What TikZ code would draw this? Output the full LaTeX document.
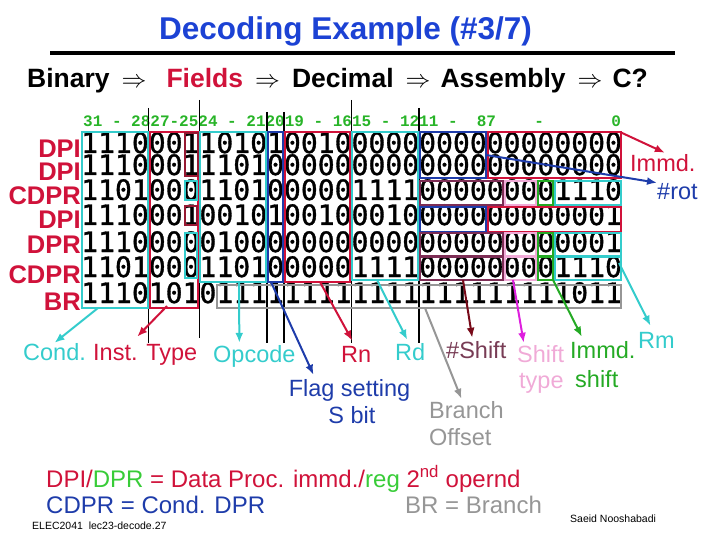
\documentclass[tikz,border=0pt]{standalone}
\usepackage{fontspec}
\setmainfont{Liberation Sans}
\newfontfamily\digfont{DejaVu Sans Mono}[FakeBold=1.2]
\newfontfamily\hdrfont{Liberation Mono}
\usetikzlibrary{calc,positioning}
\usetikzlibrary{arrows.meta}
\definecolor{crim}{RGB}{208,18,58}
\definecolor{ttlblue}{RGB}{28,66,212}
\definecolor{cyn}{RGB}{52,204,204}
\definecolor{sblue}{RGB}{30,60,170}
\definecolor{gry}{RGB}{150,150,150}
\definecolor{mrn}{RGB}{125,45,85}
\definecolor{shtxt}{RGB}{120,60,85}
\definecolor{dkred}{RGB}{120,10,25}
\definecolor{bitred}{RGB}{150,25,50}
\definecolor{pnk}{RGB}{240,170,215}
\definecolor{mag}{RGB}{222,30,222}
\definecolor{grn}{RGB}{36,170,36}
\definecolor{lgrn}{RGB}{56,204,56}
\definecolor{hdrgrn}{RGB}{40,180,40}

\begin{document}
\begin{tikzpicture}[x=1pt,y=-1pt,
  declare function={bx(\k)=81+16.9*\k;},
  lbl/.style={font=\fontsize{23.5}{28}\selectfont, inner sep=0pt, anchor=base west},
  ftxt/.style={font=\fontsize{24}{28}\selectfont, inner sep=0pt, anchor=base west},
  small/.style={font=\fontsize{10.5}{12}\selectfont, inner sep=0pt, anchor=base west},
  rowlbl/.style={font=\fontsize{25.5}{30}\selectfont\bfseries, text=crim, inner sep=0pt, anchor=base east},
  bits/.style={font=\fontsize{28.07}{30}\selectfont\digfont, inner sep=0pt, anchor=base west},
  fbox/.style={line width=2pt},
  arr/.style={line width=2pt, -{Latex[length=10pt,width=8pt]}},
  vln/.style={line width=1.5pt}]
  %\draw[color=gray,step=10pt,help lines,opacity=0.3] (0,0) grid (720,540); %help grids
  \useasboundingbox (0,0) rectangle (720,540);
  % title
  \node[font=\fontsize{31.5}{36}\selectfont\bfseries, text=ttlblue, inner sep=0pt, anchor=base] (ttl) at (345.5,40) {Decoding Example (\#3/7)};
  \draw[line width=4.5pt] (50,53) -- (675,53);
  \node[font=\fontsize{26.5}{30}\selectfont\bfseries, inner sep=0pt, anchor=base west] (sub) at (27,88)
    {Binary\hspace{12pt}$\Rightarrow$\hspace{20pt}\textcolor{crim}{Fields}\hspace{12pt}$\Rightarrow$\hspace{12pt}Decimal\hspace{12pt}$\Rightarrow$\hspace{10pt}Assembly\hspace{12pt}$\Rightarrow$\hspace{10pt}C?};
  % bit numbers
  \node[font=\fontsize{16}{18}\selectfont\hdrfont\bfseries, text=hdrgrn, inner sep=0pt, anchor=base west] (hdr) at (83,127)
    {31~-~2827-2524~-~212019~-~1615~-~1211~-~~87~~~~-~~~~~~~0};
  % field separators
  \draw[vln] ({bx(4)},108) -- ({bx(4)},343);
  \draw[vln] ({bx(7)},100) -- ({bx(7)},338);
  \draw[vln] ({bx(11)},112) -- ({bx(11)},343);
  \draw[vln] ({bx(12)},112) -- ({bx(12)},343);
  \draw[vln] ({bx(16)},100) -- ({bx(16)},343);
  \draw[vln] ({bx(20)},108) -- ({bx(20)},343);
  % instructions
  \node[rowlbl] (l1) at (81,158) {DPI};
  \node[rowlbl] (l2) at (81,181) {DPI};
  \node[rowlbl] (l3) at (81,205) {CDPR};
  \node[rowlbl] (l4) at (81,229) {DPI};
  \node[rowlbl] (l5) at (81,254) {DPR};
  \node[rowlbl] (l6) at (81,283) {CDPR};
  \node[rowlbl] (l7) at (81,310) {BR};
  \node[bits] (b1) at (81,153) {11100011010100100000000000000000};
  \node[bits] (b2) at (81,175) {11100011101000000000000000000000};
  \node[bits] (b3) at (81,200) {11010001101000001111000000001110};
  \node[bits] (b4) at (81,225) {11100010010100100010000000000001};
  \node[bits] (b5) at (81,252) {11100000100000000000000000000001};
  \node[bits] (b6) at (81,277) {11010001101000001111000000001110};
  \node[bits] (b7) at (81,303) {11101010111111111111111111111011};
  % field boxes
  \def\fld#1#2#3#4#5{\draw[fbox,#1] ({bx(#2)+1},#4) rectangle ({bx(#3)-1},#5);}
  \fld{cyn}{0}{4}{132}{308}
  \fld{crim}{4}{7}{132}{308}
  \draw[fbox,bitred] (185,133) rectangle (198,176);
  \draw[fbox,cyn] (185,181) rectangle (197,200);
  \draw[fbox,bitred] (185,206) rectangle (197,225);
  \draw[fbox,cyn] (185,233) rectangle (197,278);
  \fld{cyn}{7}{11}{132}{282}
  \fld{sblue}{11}{12}{132}{282}
  \fld{crim}{12}{16}{132}{282}
  \fld{cyn}{16}{20}{132}{280}
  \fld{sblue}{20}{24}{132}{178}
  \fld{crim}{24}{32}{132}{178}
  \fld{mrn}{20}{25}{181}{205}
  \fld{pnk}{25}{27}{181}{205}
  \fld{grn}{27}{28}{181}{205}
  \fld{cyn}{28}{32}{181}{205}
  \fld{sblue}{20}{24}{207}{232}
  \fld{crim}{24}{32}{207}{232}
  \fld{mrn}{20}{25}{233}{256}
  \fld{pnk}{25}{27}{233}{256}
  \fld{grn}{27}{28}{233}{256}
  \fld{cyn}{28}{32}{233}{256}
  \fld{mrn}{20}{25}{257}{280}
  \fld{pnk}{25}{27}{257}{280}
  \fld{grn}{27}{28}{257}{280}
  \fld{cyn}{28}{32}{257}{280}
  \fld{gry}{8}{32}{285}{308}
  % where the arrows leave the boxes
  \coordinate (condB) at (98,308);
  \coordinate (typeB) at (167,306);
  \coordinate (opcB) at (239,282);
  \coordinate (sB) at (271,282);
  \coordinate (rnB) at (320,282);
  \coordinate (rdB) at (377,280);
  \coordinate (offB) at (425,308);
  \coordinate (nshB) at (463,280);
  \coordinate (shtB) at (513,280);
  \coordinate (imB) at (553,280);
  \coordinate (rmB) at (619,263);
  \coordinate (immB) at (620,132);
  \coordinate (rotB) at (486,155);
  % field names
  \node[lbl,text=cyn] (cond) at (23,360) {Cond.};
  \node[lbl,text=crim] (itype) at (93,360) {Inst. Type};
  \node[lbl,text=cyn] (opc) at (213,362) {Opcode};
  \node[lbl,text=sblue,anchor=base] (flag) at (349.5,396) {Flag setting};
  \node[lbl,text=sblue,anchor=base] (sbit) at (352,423) {S bit};
  \node[lbl,text=crim] (rn) at (341,362) {Rn};
  \node[lbl,text=cyn] (rd) at (395,360) {Rd};
  \node[lbl,text=gry] (brn) at (429,418) {Branch};
  \node[lbl,text=gry] (ofs) at (429,445) {Offset};
  \node[lbl,text=shtxt] (nsh) at (446,358) {\#Shift};
  \node[lbl,text=pnk] (sht) at (517,362) {Shift};
  \node[lbl,text=pnk] (sht2) at (519,388) {type};
  \node[lbl,text=grn] (ims) at (570,358) {Immd.};
  \node[lbl,text=grn] (ims2) at (575,387) {shift};
  \node[lbl,text=cyn] (rm) at (638,348) {Rm};
  \node[lbl,text=crim] (immd) at (630,172) {Immd.};
  \node[lbl,text=sblue] (rot) at (657,200) {\#rot};
  \draw[arr,cyn] (condB) -- (cond.north);
  \draw[arr,crim] (typeB) -- ([xshift=-8pt,yshift=7pt]itype.north);
  \draw[arr,cyn] (opcB) -- ([xshift=-15pt,yshift=2pt]opc.north);
  \draw[arr,sblue] (sB) -- ([xshift=-36pt,yshift=4pt]flag.north);
  \draw[arr,crim] (rnB) -- ([xshift=-4pt,yshift=5pt]rn.north);
  \draw[arr,cyn] (rdB) -- ([xshift=-3pt,yshift=3pt]rd.north);
  \draw[arr,gry] (offB) -- ([xshift=-5pt,yshift=2pt]brn.north);
  \draw[arr,dkred] (nshB) -- ([xshift=-4pt,yshift=3pt]nsh.north);
  \draw[arr,mag] (shtB) -- ([xshift=-17pt,yshift=2pt]sht.north);
  \draw[arr,grn] (imB) -- ([xshift=-21pt,yshift=4pt]ims.north);
  \draw[arr,cyn] (rmB) -- ([xshift=-6pt,yshift=6pt]rm.north);
  \draw[arr,crim] (immB) -- ([xshift=2pt,yshift=2pt]immd.north);
  \draw[arr,sblue] (rotB) -- ([yshift=1pt]rot.north west);
  % key
  \node[ftxt,text=crim] (dpil) at (46,487) {DPI/\textcolor{lgrn}{DPR} = Data Proc. immd./\textcolor{lgrn}{reg} 2\textsuperscript{nd} opernd};
  \node[ftxt,text=sblue] (cdprl) at (46,513) {CDPR = Cond. DPR};
  \node[ftxt,text=gry] (brl) at (405,513) {BR = Branch};
  \node[small] (crs) at (32,529) {ELEC2041~ lec23-decode.27};
  \node[small] (auth) at (570,522) {Saeid Nooshabadi};
\end{tikzpicture}
\end{document}
